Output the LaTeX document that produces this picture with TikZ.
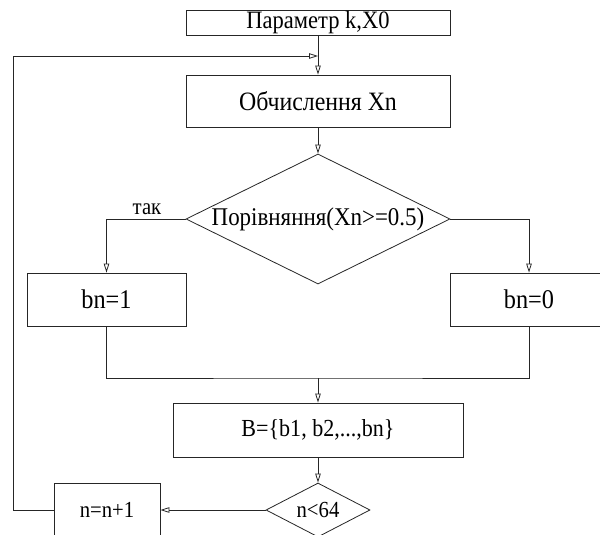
\documentclass[tikz,border=0pt]{standalone}
\usepackage{fontspec}
\setmainfont{Liberation Serif}[FakeStretch=0.9]
\usetikzlibrary{shapes.geometric,arrows.meta}
\begin{document}
\begin{tikzpicture}[x=1pt,y=-1pt,
  box/.style={draw=black!85,line width=0.8pt,rectangle,inner sep=0pt,font=\fontsize{25}{28}\selectfont},
  dec/.style={draw=black!85,line width=0.8pt,diamond,inner sep=0pt},
  conn/.style={draw=black!85,line width=0.8pt},
  arr/.style={conn,-{Triangle[open,length=9pt,width=5.5pt]}},
  bigtxt/.style={font=\fontsize{25.5}{28}\selectfont},
  smalltxt/.style={font=\fontsize{23}{26}\selectfont}
]
\clip (0,0) rectangle (600,535);
\fill[white] (0,0) rectangle (600,535);

\node[box,minimum width=264pt,minimum height=25pt,font=\fontsize{25}{27}\selectfont] (param) at (318,22.5) {Параметр k,X0};
\node[box,minimum width=264pt,minimum height=52pt,font=\fontsize{26.5}{29}\selectfont] (calc) at (318,101) {Обчислення Xn};
\node[dec,minimum width=264pt,minimum height=130pt,label={[bigtxt]center:Порівняння(Xn>=0.5)}] (cmp) at (318,219) {};
\node[box,minimum width=159pt,minimum height=53pt,font=\fontsize{27}{30}\selectfont] (b1) at (106.5,299.5) {bn=1};
\node[box,minimum width=158pt,minimum height=53pt,font=\fontsize{27}{30}\selectfont] (b0) at (529,299.5) {bn=0};
\node[box,minimum width=290pt,minimum height=54pt,font=\fontsize{24.5}{28}\selectfont] (bset) at (318,430) {B=\{b1, b2,...,bn\}};
\node[dec,minimum width=104pt,minimum height=54pt,label={[smalltxt]center:n<64}] (test) at (318,510) {};
\node[box,minimum width=106pt,minimum height=54pt,font=\fontsize{23}{26}\selectfont] (inc) at (107,510) {n=n+1};
\node[smalltxt,inner sep=0pt] (yes) at (147,209) {так};

\coordinate (m) at (318,378);
\coordinate (j) at (318,56);

\draw[arr] (param) -- (calc);
\draw[arr] (calc) -- (cmp);
\draw[arr] (cmp.west) -| (b1.north);
\draw[arr] (cmp.east) -| (b0.north);
\draw[conn] (b1.south) |- (m) -| (b0.south);
\draw[arr] (m) -- (bset);
\draw[arr] (bset) -- (test);
\draw[arr] (test.west) -- (inc.east);
\draw[arr] (inc.west) -- ++(-40,0) |- (j);
\end{tikzpicture}
\end{document}
